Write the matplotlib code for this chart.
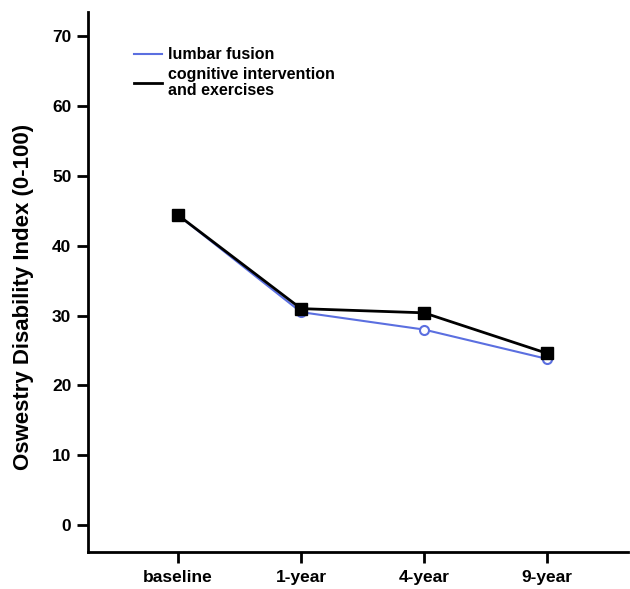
import matplotlib
matplotlib.use("Agg")
import matplotlib.pyplot as plt
from matplotlib.lines import Line2D

categories = ["baseline", "1-year", "4-year", "9-year"]
lumbar_fusion = [44.4, 30.5, 28.0, 23.8]
cognitive = [44.4, 31.0, 30.4, 24.6]
yticks = [0, 10, 20, 30, 40, 50, 60, 70]

fig = plt.figure(figsize=(6.3, 5.89), dpi=100)
ax = fig.add_axes([88/630, 1-552/589, (628-88)/630, (552-12)/589])

x = list(range(len(categories)))
blue = "#5b6fe0"
ax.plot(x, lumbar_fusion, color=blue, lw=1.5, marker="o", ms=6.5,
        mfc="white", mec=blue, mew=1.5, zorder=2)
ax.plot(x, cognitive, color="black", lw=2, marker="s", ms=8,
        mfc="black", mec="black", zorder=3)

ax.set_xlim(-0.732, 3.659)
ax.set_ylim(-3.87, 73.5)
ax.set_xticks(x)
ax.set_xticklabels(categories)
ax.set_yticks(yticks)

for s in ["top", "right"]:
    ax.spines[s].set_visible(False)
for s in ["left", "bottom"]:
    ax.spines[s].set_linewidth(2)
ax.tick_params(axis="both", width=2, length=8, direction="out", pad=4)
for lab in ax.get_xticklabels() + ax.get_yticklabels():
    lab.set_fontfamily("Liberation Sans")
    lab.set_fontweight("bold")
    lab.set_fontsize(12.5)
ax.tick_params(axis="x", pad=5)

ax.set_ylabel("Oswestry Disability Index (0-100)", fontfamily="Liberation Sans",
              fontweight="bold", fontsize=16)
ax.yaxis.set_label_coords(-0.100, 0.472)

handles = [Line2D([], [], color=blue, lw=1.5),
           Line2D([], [], color="black", lw=2)]
leg = ax.legend(handles, ["lumbar fusion", "cognitive intervention\nand exercises"],
                loc="upper left", bbox_to_anchor=(120/630, 1-33/589),
                bbox_transform=fig.transFigure, frameon=False,
                prop={"family": "Liberation Sans", "weight": "bold", "size": 11.5},
                handlelength=1.7, handletextpad=0.4, labelspacing=0.3)
for t in leg.get_texts():
    t.set_linespacing(1.1)

fig.savefig("out.png", dpi=100)
